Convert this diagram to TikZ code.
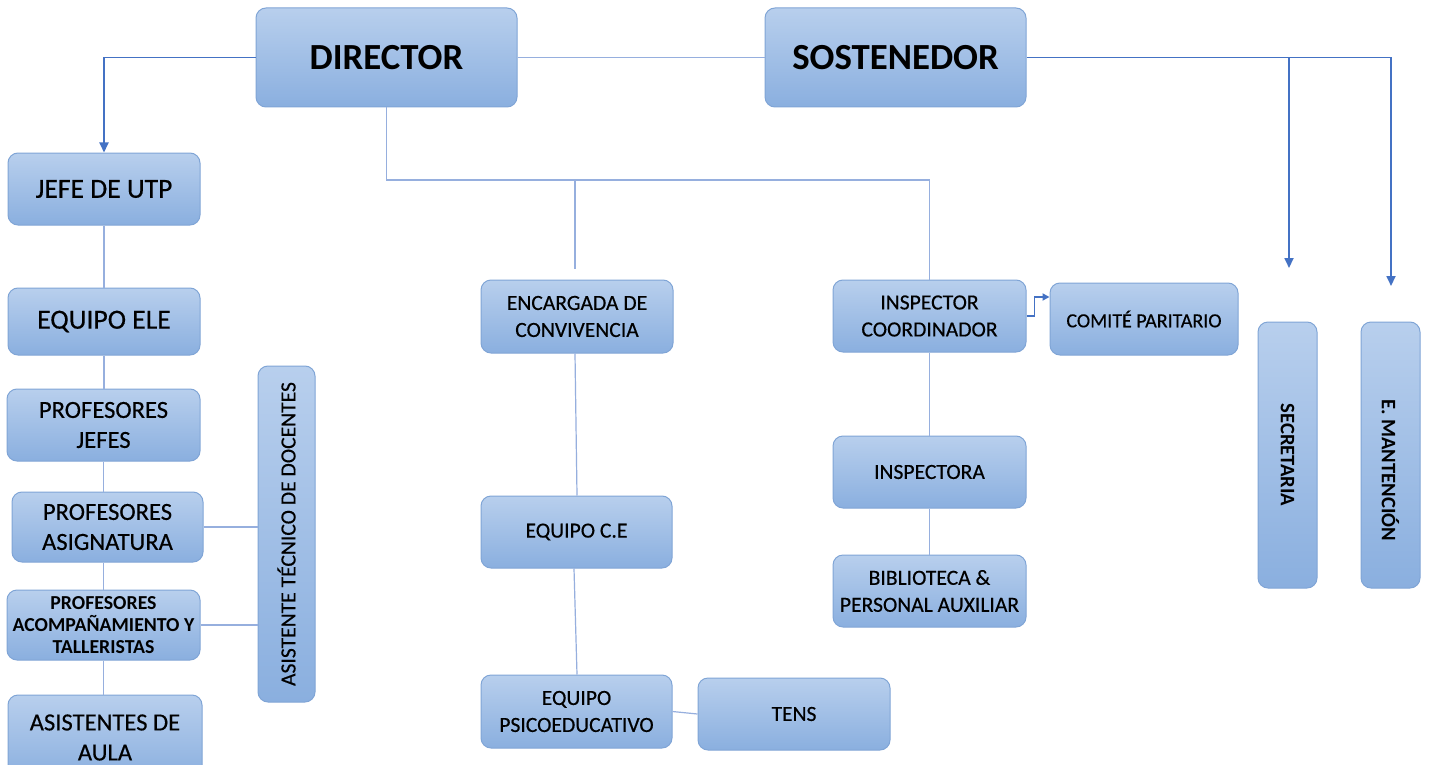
\documentclass[tikz,border=0pt]{standalone}
\usepackage{fontspec}
\setmainfont{Carlito}
\newfontfamily\heavyfont{Carlito}[FakeBold=0.4]
\usetikzlibrary{arrows.meta}
\definecolor{boxtop}{RGB}{184,207,237}
\definecolor{boxbot}{RGB}{138,175,223}
\definecolor{boxedge}{RGB}{128,165,214}
\definecolor{linelight}{RGB}{150,175,222}
\definecolor{linestrong}{RGB}{68,114,196}
\tikzset{
  orgbox/.style={draw=boxedge, line width=0.5pt, rounded corners=5pt, top color=boxtop, bottom color=boxbot, align=center, inner sep=2pt, text=black},
  bigtext/.style={font=\heavyfont\fontsize{12.3}{15}\selectfont},
  onetext/.style={font=\heavyfont\fontsize{13.8}{15}\selectfont},
  midtext/.style={font=\heavyfont\fontsize{10.8}{13.5}\selectfont},
  toptext/.style={font=\fontsize{18.4}{20}\selectfont\bfseries},
  smalltext/.style={font=\fontsize{9.9}{11}\selectfont\bfseries},
  thinlink/.style={draw=linelight, line width=0.6pt},
  stronglink/.style={draw=linestrong, line width=0.9pt},
  arrowed/.style={-{Triangle[length=5pt,width=4.5pt]}},
}
\begin{document}
\begin{tikzpicture}[x=0.5pt,y=-0.5pt]
\useasboundingbox[fill=white] (0,0) rectangle (1429,765);
% top
\node[orgbox,toptext,minimum width=130.5pt,minimum height=49.5pt] (dir) at (386.5,57.5) {DIRECTOR};
\node[orgbox,toptext,minimum width=130.5pt,minimum height=49.5pt] (sost) at (895.5,57.5) {SOSTENEDOR};
% left column
\node[orgbox,onetext,minimum width=96pt,minimum height=36pt] (jefe) at (104,189) {JEFE DE UTP};
\node[orgbox,onetext,minimum width=96pt,minimum height=33.5pt] (ele) at (104,321.5) {EQUIPO ELE};
\node[orgbox,bigtext,minimum width=96.5pt,minimum height=36pt] (pj) at (103.5,425) {PROFESORES\\JEFES};
\node[orgbox,bigtext,minimum width=95.5pt,minimum height=35pt] (pa) at (107.5,527) {PROFESORES\\ASIGNATURA};
\node[orgbox,smalltext,minimum width=96.5pt,minimum height=35pt] (pat) at (103.5,625) {PROFESORES\\ACOMPAÑAMIENTO Y\\TALLERISTAS};
\node[orgbox,bigtext,minimum width=97pt,minimum height=42.5pt] (aa) at (105,737.5) {ASISTENTES DE\\AULA};
\node[orgbox,minimum width=28.5pt,minimum height=168pt,label={[font=\heavyfont\fontsize{10.8}{12}\selectfont,rotate=90]center:ASISTENTE TÉCNICO DE DOCENTES}] (at) at (286.5,534) {};
% middle column
\node[orgbox,midtext,minimum width=96pt,minimum height=36.5pt] (enc) at (577,316.5) {ENCARGADA DE\\CONVIVENCIA};
\node[orgbox,midtext,minimum width=95.5pt,minimum height=36pt] (ce) at (576.5,532) {EQUIPO C.E};
\node[orgbox,midtext,minimum width=95.5pt,minimum height=36.5pt] (psi) at (576.5,711.5) {EQUIPO\\PSICOEDUCATIVO};
\node[orgbox,midtext,minimum width=96pt,minimum height=36pt] (tens) at (794,714) {TENS};
% right middle column
\node[orgbox,midtext,minimum width=96.5pt,minimum height=36pt] (insp) at (929.5,316) {INSPECTOR\\COORDINADOR};
\node[orgbox,midtext,minimum width=96.5pt,minimum height=36pt] (ina) at (929.5,472) {INSPECTORA};
\node[orgbox,midtext,minimum width=96.5pt,minimum height=36pt] (bib) at (929.5,591) {BIBLIOTECA \&\\PERSONAL AUXILIAR};
\node[orgbox,font=\heavyfont\fontsize{10}{11}\selectfont,minimum width=94pt,minimum height=36pt] (com) at (1144,319) {COMITÉ PARITARIO};
% far right
\node[orgbox,minimum width=29.5pt,minimum height=133pt,label={[font=\fontsize{10.3}{12}\selectfont\bfseries,rotate=-90]center:SECRETARIA}] (sec) at (1287.5,455) {};
\node[orgbox,minimum width=29.5pt,minimum height=133pt,label={[font=\fontsize{10.3}{12}\selectfont\bfseries,yshift=-7.5pt,rotate=-90]center:E. MANTENCIÓN}] (man) at (1390.5,455) {};
% coordinates for free ends
\coordinate (hub) at (386.5,180);
\coordinate (encj) at (575,180);
\coordinate (encend) at (575,269);
\coordinate (secj) at (1289,57.5);
\coordinate (secend) at (1289,268);
\coordinate (manend) at (1391,286);
% connectors
\draw[stronglink,arrowed] (dir.west) -| (jefe.north);
\draw[thinlink,line width=0.8pt] (dir.east) -- (sost.west);
\draw[stronglink,arrowed] (sost.east) -| (manend);
\draw[stronglink,arrowed] (secj) -- (secend);
\draw[thinlink] (dir.south) -- (hub) -| (insp.north);
\draw[thinlink] (encj) -- (encend);
\draw[thinlink] ([xshift=-1pt]enc.south) -- ([xshift=0.25pt]ce.north);
\draw[thinlink] ([xshift=-1.25pt]ce.south) -- ([xshift=0.25pt]psi.north);
\draw[thinlink] (psi.east) -- (tens.west);
\draw[thinlink] (insp.south) -- (ina.north);
\draw[thinlink] (ina.south) -- (bib.north);
\draw[stronglink,-{Triangle[length=3.5pt,width=3.5pt]}] (insp.east) -- ++(4pt,0) |- ([yshift=11pt]com.west);
\draw[thinlink] (jefe.south) -- (ele.north);
\draw[thinlink] (ele.south) -- (ele.south |- pj.north);
\draw[thinlink] (pj.south) -- (pj.south |- pa.north);
\draw[thinlink] (pj.south |- pa.south) -- (pj.south |- pat.north);
\draw[thinlink] (pat.south) -- (pat.south |- aa.north);
\draw[thinlink] (pa.east) -- (pa.east -| at.west);
\draw[thinlink] (pat.east) -- (pat.east -| at.west);
\end{tikzpicture}
\end{document}
